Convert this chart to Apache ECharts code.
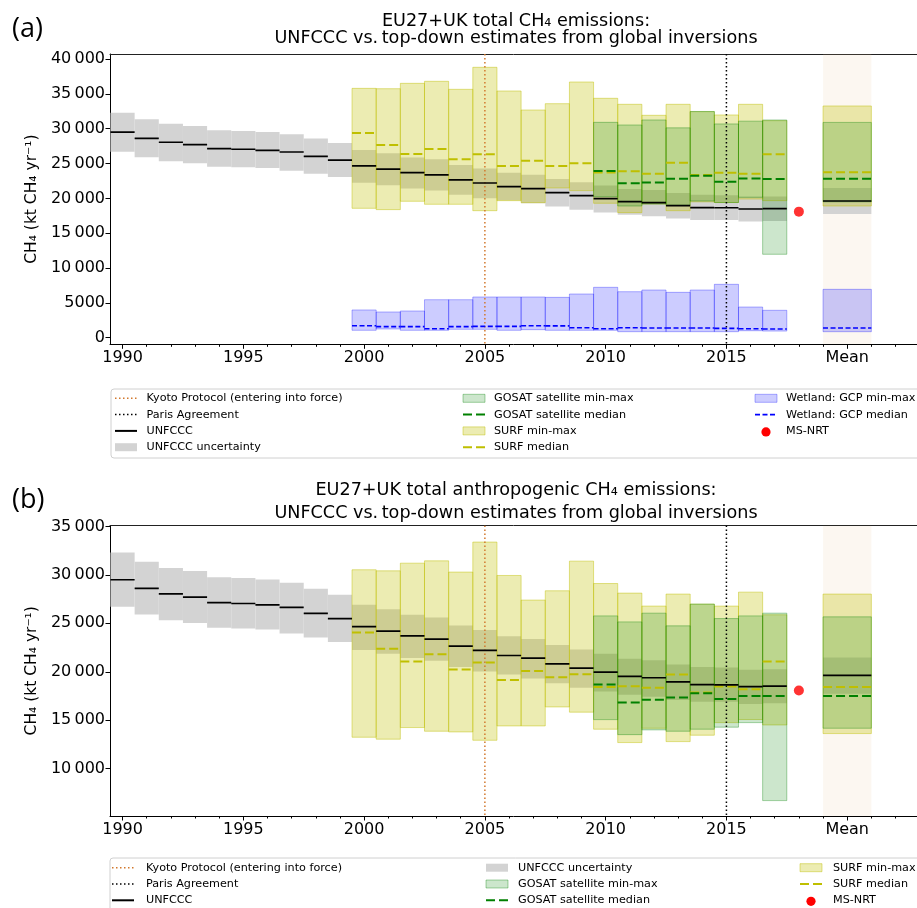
<!DOCTYPE html>
<html>
<head>
<meta charset="utf-8">
<script src="https://cdn.jsdelivr.net/npm/echarts@6/dist/echarts.min.js"></script>
<style>
html,body{margin:0;padding:0;background:#fff;}
#chart{width:917px;height:908px;}
</style>
</head>
<body>
<div id="chart"></div>
<script>
// ---------------- DATA ----------------
const unfcccYears = [1990,1991,1992,1993,1994,1995,1996,1997,1998,1999,2000,2001,2002,2003,2004,2005,2006,2007,2008,2009,2010,2011,2012,2013,2014,2015,2016,2017,'Mean'];
const unfcccCentral = [29500,28600,28050,27700,27130,27050,26900,26650,26030,25480,24650,24200,23700,23380,22650,22200,21680,21400,20820,20380,19960,19530,19380,18960,18670,18650,18470,18520,19620];
const unfcccLow  = [26700,25900,25320,25030,24550,24460,24360,23950,23540,23070,22250,21870,21420,21130,20500,20030,19720,19300,18820,18360,17970,17630,17420,17090,16900,16900,16670,16760,17740];
const unfcccHigh = [32300,31350,30720,30390,29770,29670,29530,29190,28580,27950,26930,26460,25880,25600,24780,24300,23660,23380,22760,22300,21850,21350,21200,20750,20500,20450,20220,20250,21470];

const surfYears = [2000,2001,2002,2003,2004,2005,2006,2007,2008,2009,2010,2011,2012,2013,2014,2015,2016,2017,'Mean'];
// panel (a): total emissions
const surfMinA = [18570,18380,19580,19150,19150,18230,19670,19380,21490,21110,19290,17950,19190,18230,19500,19400,19900,19670,18900];
const surfMaxA = [35790,35740,36510,36800,35650,38810,35410,32680,33590,36700,34360,33500,31920,33500,32440,31970,33500,31150,33260];
const surfMedA = [29380,27660,26370,27090,25600,26320,24650,25410,24650,25050,23700,23880,23540,25120,23350,23690,23540,26320,23740];
// panel (b): anthropogenic emissions
const surfMinB = [13240,13040,14240,13860,13790,12930,14410,14410,16370,15830,14070,12690,14170,12790,13450,14750,15070,14510,13620];
const surfMaxB = [30530,30420,31210,31450,30290,33390,29940,27400,28360,31420,29110,28120,26780,28020,26980,26780,28220,25880,28020];
const surfMedB = [24050,22370,21050,21820,20230,20950,19160,20090,19440,19750,18440,18510,18340,19710,17850,18480,18200,21050,18440];

const gosatYears = [2010,2011,2012,2013,2014,2015,2016,2017,'Mean'];
const gosatMinA = [20240,18900,19190,19000,19620,19400,20150,11970,19500];
const gosatMaxA = [30910,30530,31250,30120,32470,30680,31080,31250,30900];
const gosatMedA = [23930,22160,22280,22800,23230,22390,22850,22760,22800];
const gosatMinB = [15060,13510,14000,13860,14070,14280,14750,6700,14170];
const gosatMaxB = [25770,25150,26050,24740,26980,25490,25770,26050,25670];
const gosatMedB = [18680,16820,17100,17340,17790,17200,17510,17510,17510];

const wetYears = [2000,2001,2002,2003,2004,2005,2006,2007,2008,2009,2010,2011,2012,2013,2014,2015,2016,2017,'Mean'];
const wetMin = [1060,1250,1060,1060,1200,1200,1060,1150,1060,1060,1060,860,860,860,860,860,1000,950,860];
const wetMax = [3980,3690,3830,5450,5450,5840,5840,5840,5790,6270,7230,6600,6840,6510,6840,7660,4400,3930,6940];
const wetMed = [1720,1580,1580,1290,1580,1620,1620,1720,1700,1430,1290,1430,1390,1390,1390,1340,1290,1250,1390];

const msnrtYear = 2018;
const msnrtA = 18090;
const msnrtB = 18060;

const kyotoYear = 2005;
const parisYear = 2015;

const xTickYears = [1990,1995,2000,2005,2010,2015,'Mean'];
const minorTickYears = [1990,1991,1992,1993,1994,1995,1996,1997,1998,1999,2000,2001,2002,2003,2004,2005,2006,2007,2008,2009,2010,2011,2012,2013,2014,2015,2016,2017,2018,2019,2020,2021,2022];
const yTicksA = [0,5000,10000,15000,20000,25000,30000,35000,40000];
const yTicksB = [10000,15000,20000,25000,30000,35000];

// ---------------- HELPERS ----------------
const MEAN_X = 2020;          // position of the "Mean" column
const xNum = x => (x === 'Mean' ? MEAN_X : x);
const halfW = x => (x === MEAN_X ? 1 : 0.5);
const NX = 3;                 // x axes per grid: main, minor ticks, top spine

function boxSeries(gi, xs, lo, hi, fill, stroke, z) {
  return {
    type: 'custom', xAxisIndex: gi * NX, yAxisIndex: gi, z: z, clip: true, silent: true,
    data: xs.map((x, i) => [xNum(x), lo[i], hi[i]]),
    renderItem: function (params, api) {
      const x = api.value(0), hw = halfW(x);
      const p0 = api.coord([x - hw, api.value(2)]);
      const p1 = api.coord([x + hw, api.value(1)]);
      return {
        type: 'rect',
        shape: { x: p0[0], y: p0[1], width: p1[0] - p0[0], height: p1[1] - p0[1] },
        style: { fill: fill, stroke: stroke, lineWidth: stroke ? 1 : 0 }
      };
    }
  };
}
function segSeries(gi, xs, vals, color, width, dash, z) {
  return {
    type: 'custom', xAxisIndex: gi * NX, yAxisIndex: gi, z: z, clip: true, silent: true,
    data: xs.map((x, i) => [xNum(x), vals[i]]),
    renderItem: function (params, api) {
      const x = api.value(0), hw = halfW(x);
      const a = api.coord([x - hw, api.value(1)]);
      const b = api.coord([x + hw, api.value(1)]);
      return {
        type: 'line',
        shape: { x1: a[0], y1: a[1], x2: b[0], y2: b[1] },
        style: { stroke: color, lineWidth: width, lineDash: dash || null, fill: null }
      };
    }
  };
}
function vlineSeries(gi, year, color, z) {
  return {
    type: 'custom', xAxisIndex: gi * NX, yAxisIndex: gi, z: z, clip: true, silent: true,
    data: [[year, 0]],
    renderItem: function (params, api) {
      const p = api.coord([api.value(0), api.value(1)]);
      const cs = params.coordSys;
      return {
        type: 'line',
        shape: { x1: p[0], y1: cs.y, x2: p[0], y2: cs.y + cs.height },
        style: { stroke: color, lineWidth: 1.5, lineDash: [1.5, 2.5], fill: null }
      };
    }
  };
}
function meanBand(gi) {
  return {
    type: 'custom', xAxisIndex: gi * NX, yAxisIndex: gi, z: 1, clip: true, silent: true,
    data: [[MEAN_X, 0]],
    renderItem: function (params, api) {
      const a = api.coord([api.value(0) - 1, 0]);
      const b = api.coord([api.value(0) + 1, 0]);
      const cs = params.coordSys;
      return {
        type: 'rect',
        shape: { x: a[0], y: cs.y, width: b[0] - a[0], height: cs.height },
        style: { fill: 'rgba(230,190,150,0.13)' }
      };
    }
  };
}

const C = {
  grey: '#d3d3d3',
  yFill: 'rgba(191,191,0,0.3)', yEdge: 'rgba(191,191,0,0.45)', yLine: '#bfbf00',
  gFill: 'rgba(0,128,0,0.2)', gEdge: 'rgba(0,128,0,0.35)', gLine: '#008000',
  bFill: 'rgba(0,0,255,0.2)', bEdge: 'rgba(0,0,255,0.3)', bLine: '#0000ff',
  kyoto: '#d2782d', paris: '#000'
};
const FONT = 'DejaVu Sans';
const fmtY = v => (v >= 10000 ? Math.floor(v / 1000) + '\u2009' + '000' : String(v));
const fmtX = v => (v === MEAN_X ? 'Mean' : String(Math.round(v)));

const GRID_TOP = [54, 525.5];
const GRID_H = [290.3, 290.5];
const Y_MIN = [-950, 5110];
const Y_MAX = [40720, 35100];
const Y_TICKS = [yTicksA, yTicksB];
const X_MIN = 1989.48, X_MAX = 2022.89;

const grids = [0, 1].map(i => ({
  left: 110, right: 0, top: GRID_TOP[i], height: GRID_H[i], show: false
}));
const xAxes = [];
const yAxes = [];
[0, 1].forEach(i => {
  xAxes.push({
    type: 'value', gridIndex: i, position: 'bottom', min: X_MIN, max: X_MAX,
    splitLine: { show: false },
    axisLine: { show: true, onZero: false, lineStyle: { color: '#000', width: 1 } },
    axisTick: { show: true, length: 4.5, customValues: xTickYears.map(xNum), lineStyle: { color: '#000' } },
    axisLabel: { show: true, customValues: xTickYears.map(xNum), formatter: fmtX, margin: 6,
                 fontFamily: FONT, fontSize: 16, color: '#000' }
  });
  xAxes.push({
    type: 'value', gridIndex: i, position: 'bottom', min: X_MIN, max: X_MAX,
    splitLine: { show: false },
    axisLine: { show: false, onZero: false },
    axisTick: { show: true, length: 2.5, customValues: minorTickYears, lineStyle: { color: '#000' } },
    axisLabel: { show: false }
  });
  xAxes.push({
    type: 'value', gridIndex: i, position: 'top', min: X_MIN, max: X_MAX,
    splitLine: { show: false },
    axisLine: { show: true, onZero: false, lineStyle: { color: '#222', width: 1 } },
    axisTick: { show: false }, axisLabel: { show: false }
  });
  yAxes.push({
    type: 'value', gridIndex: i, min: Y_MIN[i], max: Y_MAX[i],
    splitLine: { show: false },
    axisLine: { show: true, onZero: false, lineStyle: { color: '#000', width: 1 } },
    axisTick: { show: true, length: 4.5, customValues: Y_TICKS[i], lineStyle: { color: '#000' } },
    axisLabel: { show: true, customValues: Y_TICKS[i], formatter: fmtY, margin: 5,
                 fontFamily: FONT, fontSize: 16, color: '#000' },
    name: 'CH\u2084 (kt CH\u2084 yr\u207B\u00B9)', nameLocation: 'middle', nameGap: 62,
    nameTextStyle: { fontFamily: FONT, fontSize: 15.5, color: '#000' }
  });
});

const series = [];
// panel (a)
series.push(meanBand(0));
series.push(boxSeries(0, unfcccYears, unfcccLow, unfcccHigh, C.grey, null, 2));
series.push(boxSeries(0, surfYears, surfMinA, surfMaxA, C.yFill, C.yEdge, 3));
series.push(boxSeries(0, gosatYears, gosatMinA, gosatMaxA, C.gFill, C.gEdge, 4));
series.push(boxSeries(0, wetYears, wetMin, wetMax, C.bFill, C.bEdge, 4));
series.push(vlineSeries(0, kyotoYear, C.kyoto, 5));
series.push(vlineSeries(0, parisYear, C.paris, 5));
series.push(segSeries(0, surfYears, surfMedA, C.yLine, 2, [9, 4], 6));
series.push(segSeries(0, gosatYears, gosatMedA, C.gLine, 2, [9, 4], 6));
series.push(segSeries(0, wetYears, wetMed, C.bLine, 1.6, [5, 2.5], 6));
series.push(segSeries(0, unfcccYears, unfcccCentral, '#000', 1.7, null, 7));
series.push({ type: 'scatter', xAxisIndex: 0, yAxisIndex: 0, z: 8, silent: true,
  data: [[msnrtYear, msnrtA]], symbolSize: 10, itemStyle: { color: '#ff0000' } });
// panel (b)
series.push(meanBand(1));
series.push(boxSeries(1, unfcccYears, unfcccLow, unfcccHigh, C.grey, null, 2));
series.push(boxSeries(1, surfYears, surfMinB, surfMaxB, C.yFill, C.yEdge, 3));
series.push(boxSeries(1, gosatYears, gosatMinB, gosatMaxB, C.gFill, C.gEdge, 4));
series.push(vlineSeries(1, kyotoYear, C.kyoto, 5));
series.push(vlineSeries(1, parisYear, C.paris, 5));
series.push(segSeries(1, surfYears, surfMedB, C.yLine, 2, [9, 4], 6));
series.push(segSeries(1, gosatYears, gosatMedB, C.gLine, 2, [9, 4], 6));
series.push(segSeries(1, unfcccYears, unfcccCentral, '#000', 1.7, null, 7));
series.push({ type: 'scatter', xAxisIndex: NX, yAxisIndex: 1, z: 8, silent: true,
  data: [[msnrtYear, msnrtB]], symbolSize: 10, itemStyle: { color: '#ff0000' } });

// ---------------- TITLES & LEGENDS (graphic) ----------------
const gfx = [];
function txt(x, y, s, size, align, family) {
  gfx.push({ type: 'text', x: x, y: y, silent: true,
    style: { text: s, fontFamily: family || FONT, fontSize: size, fill: '#000',
             align: align || 'left', verticalAlign: 'middle' } });
}
// titles
const TF = 17.6;
txt(12, 29, '(a)', 27, 'left', 'Open Sans');
txt(516, 21.3, 'EU27+UK total CH\u2084 emissions:', TF, 'center');
txt(516, 38.3, 'UNFCCC vs.\u2009top-down estimates from global inversions', TF, 'center');
txt(12, 500, '(b)', 27, 'left', 'Open Sans');
txt(516, 490.3, 'EU27+UK total anthropogenic CH\u2084 emissions:', TF, 'center');
txt(516, 513.7, 'UNFCCC vs.\u2009top-down estimates from global inversions', TF, 'center');

function legBox(x, y, w, h) {
  gfx.push({ type: 'rect', silent: true, shape: { x: x, y: y, width: w, height: h, r: 3 },
    style: { fill: '#fff', stroke: '#d0d0d0', lineWidth: 1 } });
}
function legLine(x, y, color, width, dash) {
  gfx.push({ type: 'line', silent: true, shape: { x1: x, y1: y, x2: x + 22, y2: y },
    style: { stroke: color, lineWidth: width, lineDash: dash || null } });
}
function legRect(x, y, fill, stroke) {
  gfx.push({ type: 'rect', silent: true, shape: { x: x, y: y - 4, width: 22, height: 8 },
    style: { fill: fill, stroke: stroke || null, lineWidth: stroke ? 1 : 0 } });
}
function legDot(x, y) {
  gfx.push({ type: 'circle', silent: true, shape: { cx: x + 11, cy: y + 1, r: 4.6 },
    style: { fill: '#ff0000' } });
}
const LF = 11.2;
// legend (a)
legBox(111, 389, 820, 69);
(function () {
  const r = [398.3, 414.6, 430.9, 447.2];
  const c1 = 115, t1 = 146.5, c2 = 463, t2 = 494, c3 = 755, t3 = 786;
  legLine(c1, r[0], C.kyoto, 1.5, [1.5, 2.5]); txt(t1, r[0], 'Kyoto Protocol (entering into force)', LF);
  legLine(c1, r[1], '#000', 1.5, [1.5, 2.5]); txt(t1, r[1], 'Paris Agreement', LF);
  legLine(c1, r[2], '#000', 2); txt(t1, r[2], 'UNFCCC', LF);
  legRect(c1, r[3], C.grey); txt(t1, r[3], 'UNFCCC uncertainty', LF);
  legRect(c2, r[0], C.gFill, C.gEdge); txt(t2, r[0], 'GOSAT satellite min-max', LF);
  legLine(c2, r[1], C.gLine, 2, [9, 4]); txt(t2, r[1], 'GOSAT satellite median', LF);
  legRect(c2, r[2], C.yFill, C.yEdge); txt(t2, r[2], 'SURF min-max', LF);
  legLine(c2, r[3], C.yLine, 2, [9, 4]); txt(t2, r[3], 'SURF median', LF);
  legRect(c3, r[0], C.bFill, C.bEdge); txt(t3, r[0], 'Wetland: GCP min-max', LF);
  legLine(c3, r[1], C.bLine, 1.6, [5, 2.5]); txt(t3, r[1], 'Wetland: GCP median', LF);
  legDot(c3, r[2]); txt(t3, r[2], 'MS-NRT', LF);
})();
// legend (b)
legBox(110, 858, 820, 69);
(function () {
  const r = [867.7, 884, 900.3];
  const c1 = 112, t1 = 146, c2 = 486, t2 = 518, c3 = 800, t3 = 833;
  legLine(c1, r[0], C.kyoto, 1.5, [1.5, 2.5]); txt(t1, r[0], 'Kyoto Protocol (entering into force)', LF);
  legLine(c1, r[1], '#000', 1.5, [1.5, 2.5]); txt(t1, r[1], 'Paris Agreement', LF);
  legLine(c1, r[2], '#000', 2); txt(t1, r[2], 'UNFCCC', LF);
  legRect(c2, r[0], C.grey); txt(t2, r[0], 'UNFCCC uncertainty', LF);
  legRect(c2, r[1], C.gFill, C.gEdge); txt(t2, r[1], 'GOSAT satellite min-max', LF);
  legLine(c2, r[2], C.gLine, 2, [9, 4]); txt(t2, r[2], 'GOSAT satellite median', LF);
  legRect(c3, r[0], C.yFill, C.yEdge); txt(t3, r[0], 'SURF min-max', LF);
  legLine(c3, r[1], C.yLine, 2, [9, 4]); txt(t3, r[1], 'SURF median', LF);
  legDot(c3, r[2]); txt(t3, r[2], 'MS-NRT', LF);
})();

const chart = echarts.init(document.getElementById('chart'), null, { renderer: 'canvas', width: 917, height: 908 });
chart.setOption({
  animation: false,
  backgroundColor: '#fff',
  textStyle: { fontFamily: FONT },
  grid: grids,
  xAxis: xAxes,
  yAxis: yAxes,
  series: series,
  graphic: gfx
});
</script>
</body>
</html>
